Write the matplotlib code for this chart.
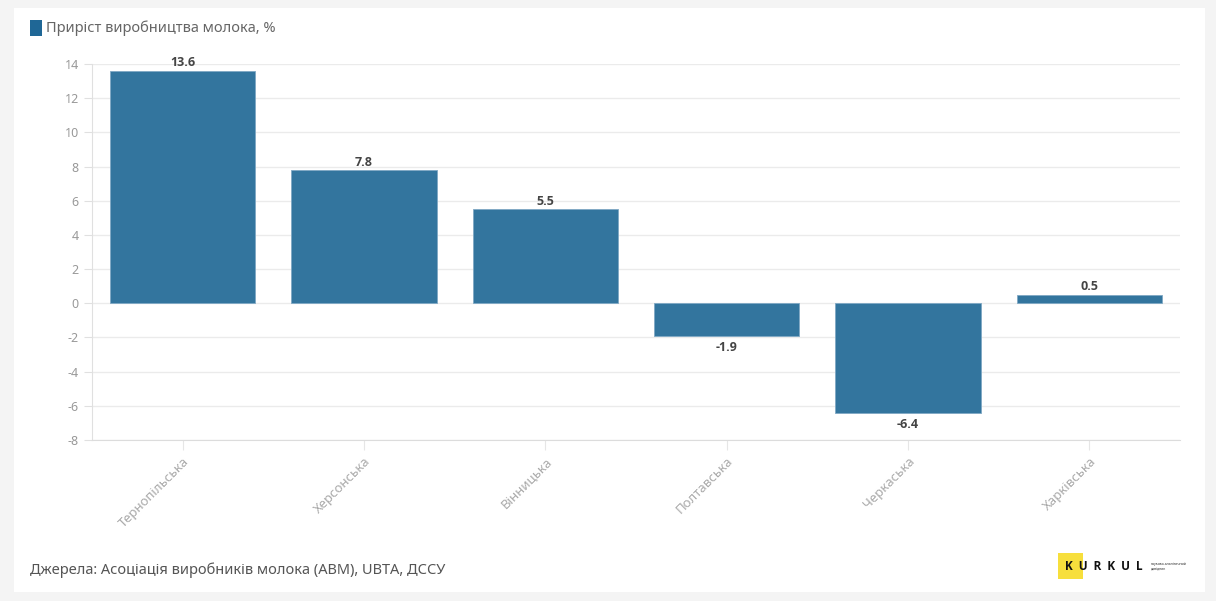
import matplotlib.pyplot as plt
from matplotlib.patches import Rectangle

regions = ['Тернопільська', 'Херсонська', 'Вінницька', 'Полтавська', 'Черкаська', 'Харківська']
growth = [13.6, 7.8, 5.5, -1.9, -6.4, 0.5]
yticks = list(range(-8, 15, 2))

bar_color = '#33759e'
plt.rcParams['font.family'] = ['Noto Sans', 'DejaVu Sans']
plt.rcParams['axes.unicode_minus'] = False
bold_font = ['Open Sans', 'DejaVu Sans']

fig = plt.figure(figsize=(12.16, 6.01), dpi=100, facecolor='#f4f4f4')
# white card behind everything
fig.patches.append(Rectangle((14 / 1216, 1 - 592 / 601), (1205 - 14) / 1216, (592 - 8) / 601,
                             transform=fig.transFigure, facecolor='white', edgecolor='none', zorder=-10))

ax = fig.add_axes([92 / 1216, 1 - 440 / 601, (1180 - 92) / 1216, (440 - 64) / 601])
ax.set_facecolor('white')
x = range(len(regions))
ax.bar(x, growth, width=0.8, color=bar_color, edgecolor='#7fa8c4', linewidth=0.6, zorder=2)
ax.set_xlim(-0.5, len(regions) - 0.5)
ax.set_ylim(-8, 14)
ax.set_yticks(yticks)
ax.grid(axis='y', color='#ebebeb', linewidth=1, zorder=0)
ax.set_axisbelow(True)

for s in ['top', 'right']:
    ax.spines[s].set_visible(False)
ax.spines['left'].set_color('#e0e0e0')
ax.spines['bottom'].set_color('#dcdcdc')
ax.tick_params(axis='y', colors='#e0e0e0', labelcolor='#999999', labelsize=9, length=6)
ax.tick_params(axis='x', colors='#e6e6e6', labelcolor='#aaaaaa', labelsize=9.5, length=7)
ax.set_xticks(list(x))
ax.set_xticklabels(regions, rotation=45, ha='right', rotation_mode='anchor')

for i, v in enumerate(growth):
    if v >= 0:
        ax.annotate(f'{v}', (i, v), xytext=(0, 1), textcoords='offset points', family=bold_font,
                    ha='center', va='bottom', fontsize=9, fontweight='bold', color='#444444')
    else:
        ax.annotate(f'{v}', (i, v), xytext=(0, -4), textcoords='offset points', family=bold_font,
                    ha='center', va='top', fontsize=9, fontweight='bold', color='#444444')

# legend
fig.patches.append(Rectangle((30 / 1216, 1 - 36 / 601), 12 / 1216, 16 / 601, transform=fig.transFigure,
                             facecolor='#1f6796', edgecolor='none'))
fig.text(46 / 1216, 1 - 28 / 601, 'Приріст виробництва молока, %', fontsize=10.5, color='#666666', va='center')

# source
fig.text(30 / 1216, 1 - 570 / 601, 'Джерела: Асоціація виробників молока (АВМ), UBTA, ДССУ',
         fontsize=10.5, color='#555555', va='center')

# logo
fig.patches.append(Rectangle((1058 / 1216, 1 - 579 / 601), 25 / 1216, 26 / 601, transform=fig.transFigure,
                             facecolor='#f7df3c', edgecolor='none'))
fig.text(1065 / 1216, 1 - 567 / 601, 'K  U  R  K  U  L', family=bold_font, fontsize=8.5,
         fontweight='bold', color='#111111', va='center')
fig.text(1151 / 1216, 1 - 566 / 601, 'науково-аналітичний\nдовідник', fontsize=2.5, color='#333333', va='center')

fig.savefig('out.png', dpi=100, facecolor=fig.get_facecolor())
